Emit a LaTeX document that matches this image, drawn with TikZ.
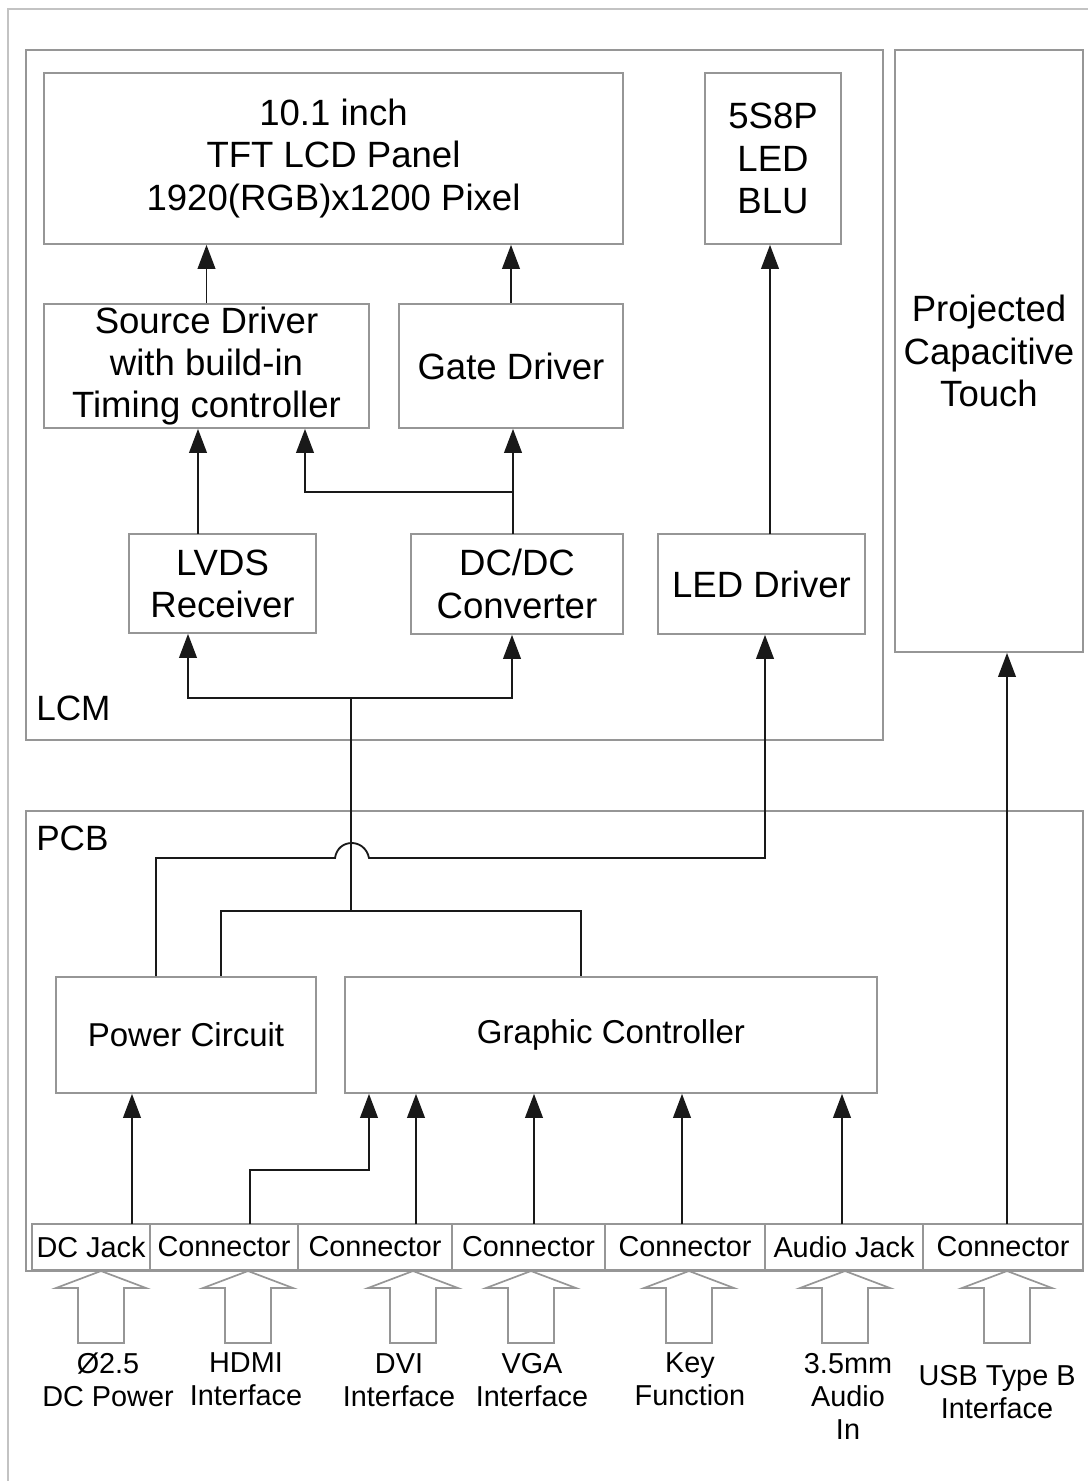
\documentclass[tikz,border=0pt]{standalone}
\usepackage{fontspec}
\setmainfont{Liberation Sans}
\usepackage{tikz}
\usetikzlibrary{arrows.meta,positioning}
\definecolor{boxgray}{RGB}{150,150,150}
\definecolor{framegray}{RGB}{195,195,195}
\definecolor{linedark}{RGB}{25,25,25}

\begin{document}
\begin{tikzpicture}[
    x=0.025cm, y=-0.025cm,
    block/.style={draw=boxgray, line width=1.2pt, align=center, inner sep=2pt, font=\fontsize{26}{30}\selectfont},
    pcbblock/.style={block, font=\fontsize{23.5}{28}\selectfont},
    area/.style={draw=boxgray, line width=1.2pt},
    cell/.style={draw=boxgray, line width=1.2pt, minimum height=1.15cm, inner sep=0pt, font=\fontsize{20.5}{24}\selectfont},
    tag/.style={anchor=west, inner sep=0pt, font=\fontsize{25}{30}\selectfont},
    inlabel/.style={align=center, inner sep=0pt, font=\fontsize{20.5}{23.5}\selectfont},
    arrow/.style={-{Triangle[length=17pt, width=12.5pt]}, line width=1.3pt, draw=linedark},
    wire/.style={line width=1.3pt, draw=linedark},
    plug/.style={draw=boxgray, line width=1.2pt},
  ]
  \fill[white] (0,0) rectangle (1088,1481);
  \useasboundingbox (0,0) rectangle (1088,1481);
  \draw[framegray, line width=1.3pt] (8,1481) -- (8,9) -- (1088,9);

  \node[area, minimum width=21.425cm, minimum height=17.25cm] (lcm) at (454.5,395) {};
  \node[area, minimum width=26.425cm, minimum height=11.5cm] (pcb) at (554.5,1041) {};
  \node[tag] (lcmtag) at (36,708) {LCM};
  \node[tag] (pcbtag) at (36,838) {PCB};

  \node[block, minimum width=14.475cm, minimum height=4.275cm] (panel) at (333.5,158.5) {10.1 inch\\TFT LCD Panel\\1920(RGB)x1200 Pixel};
  \node[block, minimum width=3.4cm, minimum height=4.275cm] (blu) at (773,158.5) {5S8P\\LED\\BLU};
  \node[block, minimum width=8.125cm, minimum height=3.1cm] (src) at (206.5,366) {Source Driver\\with build-in\\Timing controller};
  \node[block, minimum width=5.6cm, minimum height=3.1cm] (gate) at (511,366) {Gate Driver};
  \node[block, minimum width=4.675cm, minimum height=2.475cm] (lvds) at (222.5,583.5) {LVDS\\Receiver};
  \node[block, minimum width=5.3cm, minimum height=2.5cm] (dcdc) at (517,584) {DC/DC\\Converter};
  \node[block, minimum width=5.175cm, minimum height=2.5cm] (leddrv) at (761.5,584) {LED Driver};
  \node[block, minimum width=4.7cm, minimum height=15.05cm] (touch) at (989,351) {Projected\\Capacitive\\Touch};
  \node[pcbblock, minimum width=6.5cm, minimum height=2.9cm] (power) at (186,1035) {Power Circuit};
  \node[pcbblock, minimum width=13.3cm, minimum height=2.9cm] (gfx) at (611,1035) {Graphic Controller};

  \node[cell, minimum width=2.95cm] (dcjack) at (91,1247) {DC Jack};
  \node[cell, minimum width=3.7cm] (hdmicon) at (224,1247) {Connector};
  \node[cell, minimum width=3.85cm] (dvicon) at (375,1247) {Connector};
  \node[cell, minimum width=3.825cm] (vgacon) at (528.5,1247) {Connector};
  \node[cell, minimum width=4cm] (keycon) at (685,1247) {Connector};
  \node[cell, minimum width=3.95cm] (audiocon) at (844,1247) {Audio Jack};
  \node[cell, minimum width=4cm] (usbcon) at (1003,1247) {Connector};

  \node[inlabel] (dclbl) at (108,1380) {Ø2.5\\DC Power};
  \node[inlabel] (hdmilbl) at (246,1379) {HDMI\\Interface};
  \node[inlabel] (dvilbl) at (399,1380) {DVI\\Interface};
  \node[inlabel] (vgalbl) at (532,1380) {VGA\\Interface};
  \node[inlabel] (keylbl) at (690,1379) {Key\\Function};
  \node[inlabel] (audlbl) at (848,1396) {3.5mm\\Audio\\In};
  \node[inlabel] (usblbl) at (997,1392) {USB Type B\\Interface};

  \foreach \x in {101,248,413,531,689,845,1007}
    \draw[plug] (\x,1271) -- ++(45,17) -- ++(-22,0) -- ++(0,55) -- ++(-46,0) -- ++(0,-55) -- ++(-22,0) -- cycle;

  \coordinate (bluin) at (770,534);
  \coordinate (lvup) at (198,534);
  \coordinate (dcup) at (513,534);
  \coordinate (tcon) at (305,492);
  \coordinate (bus) at (351,698);
  \coordinate (lvin) at (188,698);
  \coordinate (dcin) at (512,698);
  \draw[arrow] (src.north) -- (src.north |- panel.south);
  \draw[arrow] (gate.north) -- (gate.north |- panel.south);
  \draw[arrow] (bluin) -- (bluin |- blu.south);
  \draw[arrow] (lvup) -- (lvup |- src.south);
  \draw[arrow] (dcup) -- (dcup |- gate.south);
  \draw[arrow] (dcup |- tcon) -- (tcon) -- (tcon |- src.south);
  \draw[arrow] (bus) -- (lvin) -- (lvin |- lvds.south);
  \draw[arrow] (bus) -- (dcin) -- (dcin |- dcdc.south);

  \coordinate (sig) at (351,911);
  \coordinate (pwsig) at (221,911);
  \coordinate (gfsig) at (581,911);
  \coordinate (pwled) at (156,858);
  \coordinate (hopl) at (335,858);
  \coordinate (hopr) at (369,858);
  \coordinate (ledin) at (765,858);
  \draw[wire] (bus) -- (sig);
  \draw[wire] (pwsig |- power.north) -- (pwsig) -- (gfsig) -- (gfsig |- gfx.north);
  \draw[arrow] (pwled |- power.north) -- (pwled) -- (hopl) .. controls (338,838) and (365,838) .. (hopr) -- (ledin) -- (ledin |- leddrv.south);

  \coordinate (dcjin) at (132,1224);
  \coordinate (hdmiin) at (250,1224);
  \coordinate (hdmiup) at (369,1170);
  \coordinate (dviin) at (416,1224);
  \coordinate (vgain) at (534,1224);
  \coordinate (keyin) at (682,1224);
  \coordinate (audin) at (842,1224);
  \coordinate (usbin) at (1007,1224);
  \draw[arrow] (dcjin) -- (dcjin |- power.south);
  \draw[arrow] (hdmiin) |- (hdmiup) -- (hdmiup |- gfx.south);
  \foreach \c in {dviin,vgain,keyin,audin}
    \draw[arrow] (\c) -- (\c |- gfx.south);
  \draw[arrow] (usbin) -- (usbin |- touch.south);
\end{tikzpicture}
\end{document}
